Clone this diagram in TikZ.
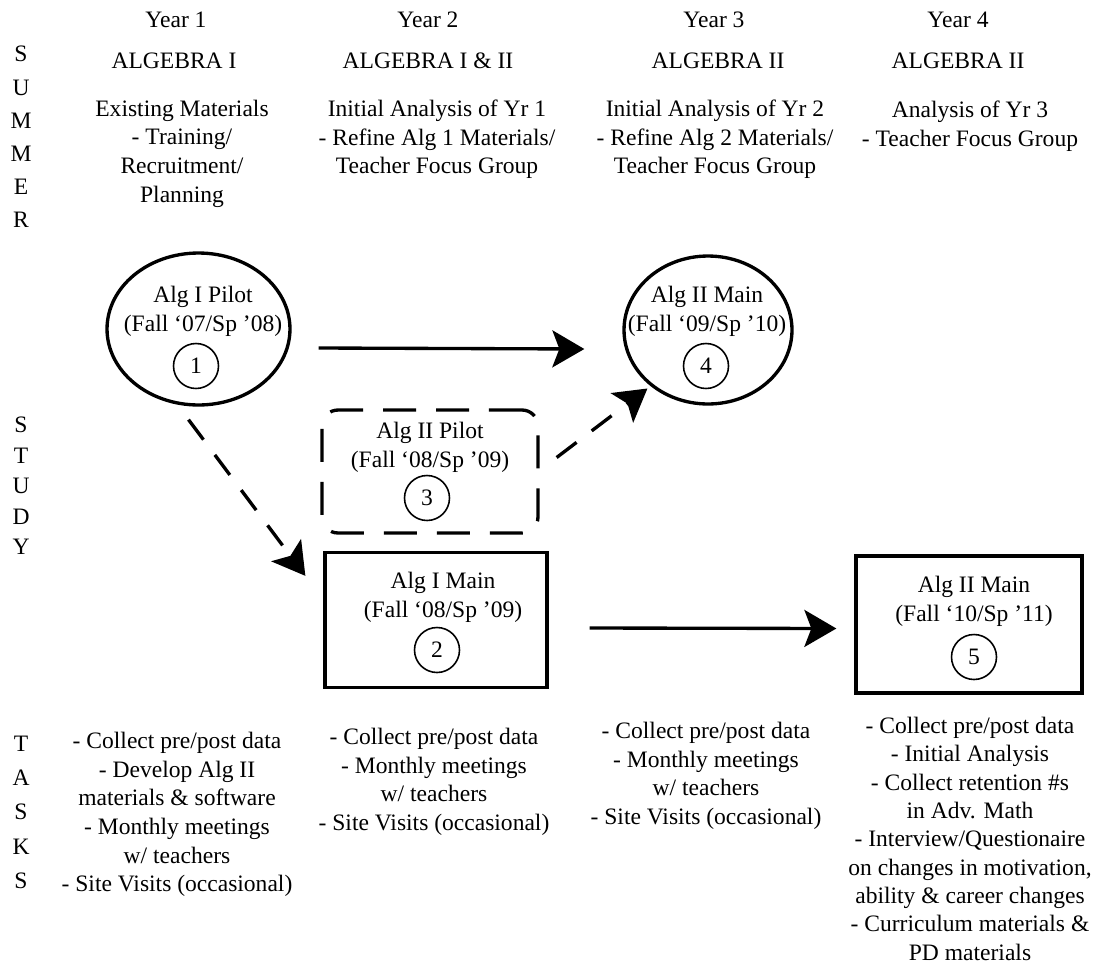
\documentclass[tikz,border=0pt]{standalone}
\usepackage{fontspec}
\setmainfont{Liberation Serif}
\usetikzlibrary{shapes.geometric, arrows.meta, positioning, calc}

\begin{document}
\begin{tikzpicture}[
		% Estilos (unidades en pixeles de la imagen)
		x=0.02cm, y=-0.02cm,
		txt/.style = {font=\fontsize{13.4}{16.3}\selectfont, align=center, inner sep=0pt},
		head/.style = {txt, anchor=base},
		colblock/.style = {txt, anchor=north},
		sideword/.style = {txt, anchor=north},
		pilot/.style = {draw, ellipse, line width=1.9pt, minimum width=3.66cm, minimum height=3.04cm},
		mainbox/.style = {draw, rectangle, line width=1.9pt, minimum width=4.44cm, minimum height=2.7cm},
		dashbox/.style = {draw, rectangle, rounded corners=0.32cm, line width=1.9pt, dash pattern=on 0.66cm off 0.4cm, minimum width=4.32cm, minimum height=2.46cm},
		num/.style = {draw, circle, line width=0.9pt, minimum size=0.9cm, inner sep=0pt, font=\fontsize{13.4}{16.3}\selectfont},
		link/.style = {line width=1.9pt, -{Stealth[length=0.64cm, width=0.74cm, inset=0.14cm]}},
		dashlink/.style = {link, dash pattern=on 0.5cm off 0.38cm}
		]
		
		\useasboundingbox (0,0) rectangle (1097,970);
		
		% --- ETIQUETAS LATERALES ---
		\node [sideword, font=\fontsize{13.4}{18.9}\selectfont] (summerlbl) at (21,46) {S\\U\\M\\M\\E\\R};
		\node [sideword, font=\fontsize{13.4}{17.3}\selectfont] (studylbl) at (21,417) {S\\T\\U\\D\\Y};
		\node [sideword, font=\fontsize{13.4}{19.4}\selectfont] (taskslbl) at (21,736) {T\\A\\S\\K\\S};
		
		% --- VERANO: CABECERAS ---
		\node [head] (yr1) at (176,28) {Year 1};
		\node [head] (subj1) at (174,68) {ALGEBRA I};
		\node [colblock] (sum1) at (182,99.5) {Existing Materials\\- Training/\\Recruitment/\\Planning};
		
		\node [head] (yr2) at (428,28) {Year 2};
		\node [head] (subj2) at (428,68) {ALGEBRA I \& II};
		\node [colblock] (sum2) at (437,99.5) {Initial Analysis of Yr 1\\- Refine Alg 1 Materials/\\Teacher Focus Group};
		
		\node [head] (yr3) at (714,28) {Year 3};
		\node [head] (subj3) at (718,68) {ALGEBRA II};
		\node [colblock] (sum3) at (715,99.5) {Initial Analysis of Yr 2\\- Refine Alg 2 Materials/\\Teacher Focus Group};
		
		\node [head] (yr4) at (958,28) {Year 4};
		\node [head] (subj4) at (958,68) {ALGEBRA II};
		\node [colblock] (sum4) at (970,101) {Analysis of Yr 3\\- Teacher Focus Group};
		
		% --- ESTUDIOS ---
		% Piloto Alg I
		\node [pilot] (pilot1) at (198.5,329) {};
		\node [colblock] (pilot1txt) at (203,286) {Alg I Pilot\\(Fall ‘07/Sp ’08)};
		\node [num] (n1) at (196,366) {1};
		
		% Principal Alg II (ano 3)
		\node [pilot, minimum width=3.36cm, minimum height=2.96cm] (main4) at (708,330) {};
		\node [colblock] (main4txt) at (707,286) {Alg II Main\\(Fall ‘09/Sp ’10)};
		\node [num] (n4) at (706,366) {4};
		
		% Piloto Alg II
		\node [dashbox] (pilot3) at (430,471.5) {};
		\node [colblock] (pilot3txt) at (430,422) {Alg II Pilot\\(Fall ‘08/Sp ’09)};
		\node [num] (n3) at (427,498) {3};
		
		% Principal Alg I
		\node [mainbox] (main2) at (436,620) {};
		\node [colblock] (main2txt) at (443,572) {Alg I Main\\(Fall ‘08/Sp ’09)};
		\node [num] (n2) at (437,650) {2};
		
		% Principal Alg II (ano 4)
		\node [mainbox, minimum width=4.52cm, minimum height=2.74cm] (main5) at (969,624.5) {};
		\node [colblock] (main5txt) at (974,576) {Alg II Main\\(Fall ‘10/Sp ’11)};
		\node [num] (n5) at (974,657) {5};
		
		% --- CONEXIONES ---
		\draw [link] ($(pilot1.east)+(27,19)$) -- ($(main4.west)+(-38,19)$);
		\draw [dashlink] ($(pilot1.south)+(-10,13)$) -- ($(main2.north west)+(-18,25)$);
		\draw [dashlink] ($(pilot3.east)+(17,-14)$) -- ($(main4.south west)+(0,5)$);
		\draw [link] ($(main2.east)+(41,8)$) -- ($(main5.west)+(-18,4)$);
		
		% --- TAREAS ---
		\node [colblock] (task1) at (177,732) {- Collect pre/post data\\- Develop Alg II\\materials \& software\\- Monthly meetings\\w/ teachers\\- Site Visits (occasional)};
		\node [colblock] (task2) at (434,728) {- Collect pre/post data\\- Monthly meetings\\w/ teachers\\- Site Visits (occasional)};
		\node [colblock] (task3) at (706,722) {- Collect pre/post data\\- Monthly meetings\\w/ teachers\\- Site Visits (occasional)};
		\node [colblock, font=\fontsize{13.4}{16.1}\selectfont] (task4) at (970,717) {- Collect pre/post data\\- Initial Analysis\\- Collect retention \#s\\in Adv. Math\\- Interview/Questionaire\\on changes in motivation,\\ability \& career changes\\- Curriculum materials \&\\PD materials};
		
	\end{tikzpicture}
\end{document}
